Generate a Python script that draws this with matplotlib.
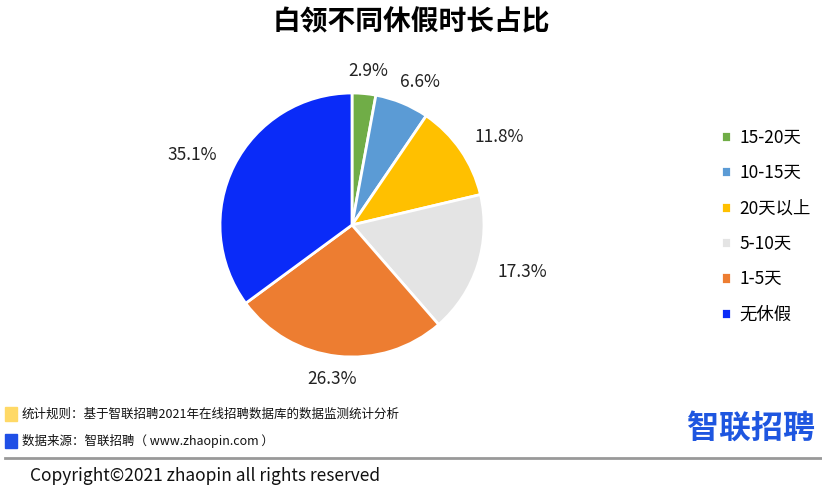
import numpy as np
import matplotlib.pyplot as plt
from matplotlib.patches import Rectangle
from matplotlib.lines import Line2D

plt.rcParams['font.family'] = ['Noto Sans CJK SC', 'DejaVu Sans']

categories = ["15-20天", "10-15天", "20天以上", "5-10天", "1-5天", "无休假"]
shares = [2.9, 6.6, 11.8, 17.3, 26.3, 35.1]
colors = ["#70AD47", "#5B9BD5", "#FFC000", "#E4E4E4", "#ED7D31", "#0A2BF8"]

title = "白领不同休假时长占比"
note_rule = "统计规则：基于智联招聘2021年在线招聘数据库的数据监测统计分析"
note_source = "数据来源：智联招聘（ www.zhaopin.com ）"
copyright_text = "Copyright©2021 zhaopin all rights reserved"

W, H = 822, 495
fig = plt.figure(figsize=(W / 100, H / 100), dpi=100)

# pie axes placed in pixels: centre (352, 225), radius 132
r_px = 132
half = 1.4 * r_px
cx, cy = 352, H - 225
ax = fig.add_axes([(cx - half) / W, (cy - half) / H, 2 * half / W, 2 * half / H])
wedges, _ = ax.pie(
    shares, colors=colors, startangle=90, counterclock=False,
    wedgeprops=dict(edgecolor="white", linewidth=2),
)
ax.set_xlim(-1.4, 1.4)
ax.set_ylim(-1.4, 1.4)
ax.set_aspect("equal")
ax.axis("off")

# labels sit just outside the rim, like Excel "outside end"
for w, v in zip(wedges, shares):
    a = np.deg2rad((w.theta1 + w.theta2) / 2)
    ox = np.cos(a) * 47 * 0.72
    oy = np.sin(a) * 23 * 0.72
    ax.annotate(f"{v:.1f}%", xy=(np.cos(a), np.sin(a)), xytext=(ox, oy),
                textcoords="offset points", ha="center", va="center",
                fontsize=12.5, color="#222222")

fig.text(0.5, 1 - 22 / H, title, ha="center", va="center",
         fontsize=20, fontweight="bold", color="black")

fig.legend(wedges, categories, loc="upper left",
           bbox_to_anchor=(712 / W, 1 - 120 / H), frameon=False,
           fontsize=12.5, handlelength=0.6, handleheight=0.6,
           handletextpad=0.5, labelspacing=1.0, borderpad=0)

# footer notes
fig.patches.append(Rectangle((5 / W, 1 - 421 / H), 12 / W, 14 / H,
                             transform=fig.transFigure, color="#FFD966"))
fig.patches.append(Rectangle((5 / W, 1 - 448 / H), 12 / W, 14 / H,
                             transform=fig.transFigure, color="#1F4FE6"))
fig.text(22 / W, 1 - 414 / H, note_rule, fontsize=9, va="center", color="#111111")
fig.text(22 / W, 1 - 441 / H, note_source, fontsize=9, va="center", color="#111111")
fig.text(815 / W, 1 - 429 / H, "智联招聘", fontsize=23, fontweight="bold",
         ha="right", va="center", color="#1E56E0")

fig.lines.append(Line2D([5 / W, 1], [1 - 458 / H, 1 - 458 / H],
                        transform=fig.transFigure, color="#999999", linewidth=2))
fig.text(30 / W, 1 - 476 / H, copyright_text, fontsize=12.5, va="center", color="#111111")

fig.savefig("out.png", dpi=100)
